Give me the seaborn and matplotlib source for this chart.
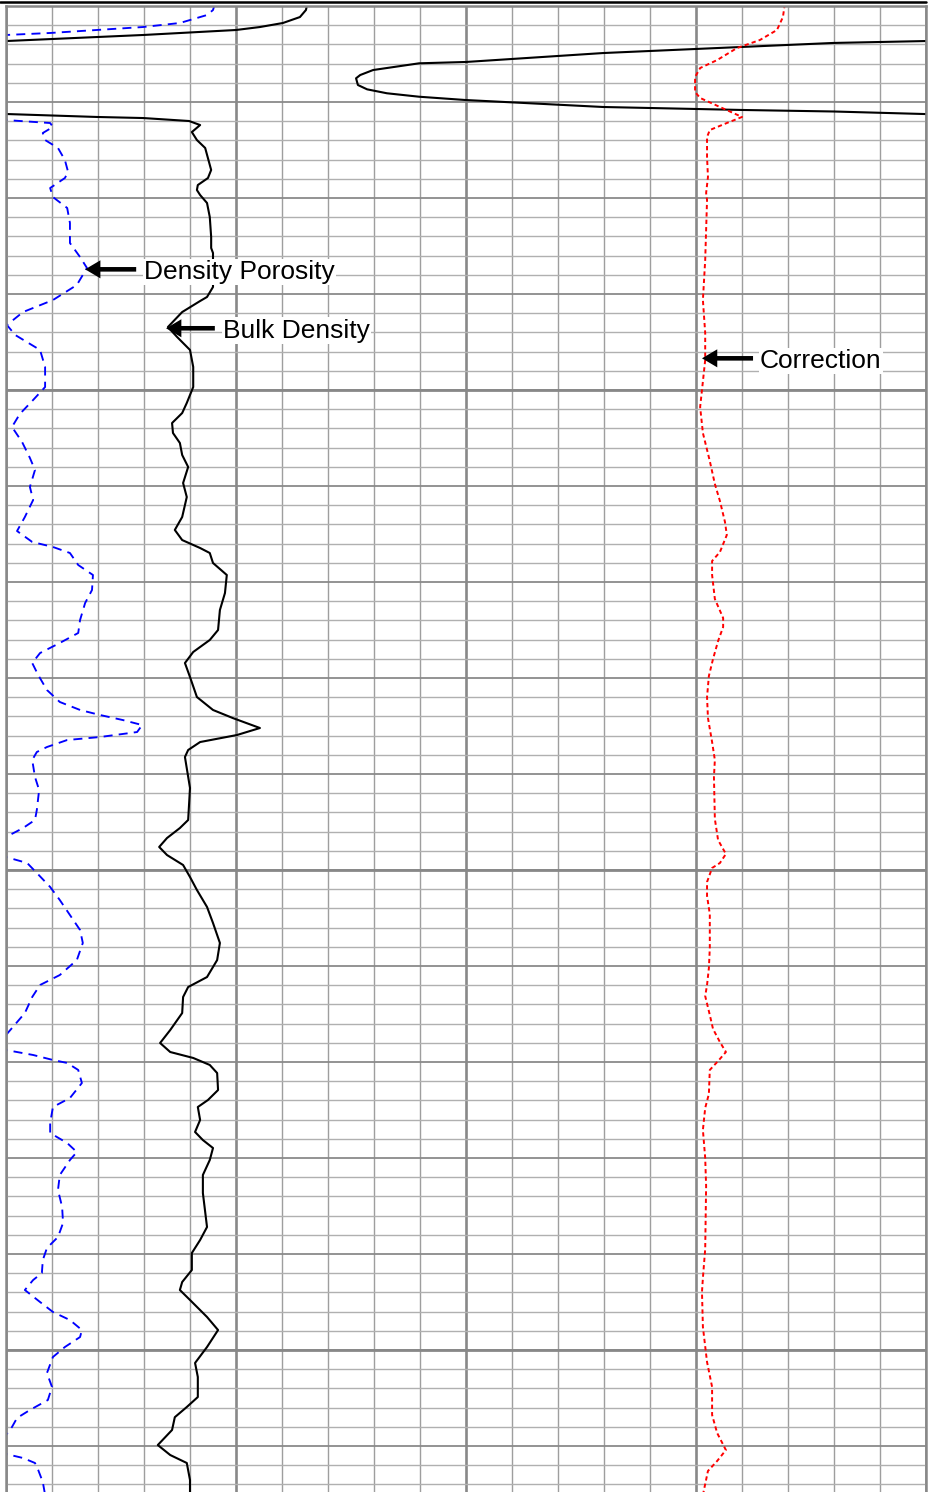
import matplotlib
import numpy as np
import seaborn as sns

matplotlib.use("Agg")
import matplotlib.pyplot as plt
from matplotlib.lines import Line2D
from matplotlib.ticker import MultipleLocator

# Profundidad en pies; valores de curva en divisiones de la grilla
# (pista 1 = 0-10, pista 2 = 10-20). La densidad volumetrica hace "wrap".
rhob_depth = [10.0, 10.42, 11.15, 11.77, 12.19, 12.5, 13.02, 13.23, 13.65,
              13.85, 14.27, 14.9, 15.83, 15.97, 16.67, 17.19, 17.53, 18.23,
              18.68, 19.09, 19.45, 19.79, 20.52, 20.83, 20.99, 21.25,
              21.56, 21.67, 21.98, 22.4, 23.13, 23.96, 24.79, 25.83, 27.08,
              27.92, 28.65, 29.17, 29.69, 30.52, 31.98, 34.06, 35.21, 35.73,
              39.27, 40.31, 40.73, 41.88, 43.44, 44.48, 45.83, 47.6, 49.69,
              51.35, 52.4, 53.44, 54.48, 55.52, 56.77, 58.02, 59.69, 61.15,
              63.23, 64.58, 65.63, 66.46, 66.98, 68.02, 69.27, 71.15, 72.92,
              75.0, 76.04, 77.29, 78.44, 79.9, 81.98, 83.33, 84.17, 85.21,
              85.94, 86.67, 87.5, 88.23, 90.31, 91.46, 94.79, 95.63, 96.67,
              97.6, 98.44, 99.48, 100.73, 102.08, 103.85, 105.52, 107.6,
              109.38, 111.15, 112.19, 113.23, 114.9, 116.67, 118.02, 118.96,
              119.58, 120.31, 121.15, 122.92, 123.96, 124.69, 126.04, 127.29,
              128.13, 128.96, 130.21, 131.77, 133.65, 137.19, 138.54, 139.9,
              141.67, 142.92, 143.75, 144.79, 146.56, 147.92, 149.69, 151.35,
              152.81, 154.9, 155.94, 157.0, 158.33, 159.9, 160.94, 161.77,
              163.54, 165.1]
rhob_div = [6.54, 6.52, 6.39, 6.02, 5.52, 5.0, 2.98, 1.98, 0.0,
            -2.02, -4.0, -7.02, -10.0, -11.02, -12.02, -12.3, -12.39, -12.35,
            -12.15, -11.72, -11.02, -10.02, -7.02, -4.0, -2.0, 0.0,
            1.98, 2.98, 3.98, 4.22, 4.04, 4.15, 4.33, 4.39, 4.46,
            4.39, 4.17, 4.15, 4.22, 4.37, 4.43, 4.46, 4.46, 4.5,
            4.5, 4.37, 4.22, 3.83, 3.52, 3.72, 4.0, 4.07, 4.07,
            3.93, 3.83, 3.61, 3.63, 3.78, 3.83, 3.96, 3.85, 3.93,
            3.83, 3.67, 3.83, 4.22, 4.43, 4.5, 4.8, 4.76, 4.65,
            4.61, 4.43, 4.07, 3.89, 4.0, 4.15, 4.5, 4.93, 5.52,
            5.02, 4.22, 3.96, 3.89, 3.96, 4.0, 3.96, 3.78, 3.5,
            3.33, 3.5, 3.85, 4.0, 4.15, 4.37, 4.5, 4.65,
            4.59, 4.37, 3.96, 3.85, 3.83, 3.57, 3.35, 3.57,
            4.07, 4.43, 4.59, 4.61, 4.39, 4.17, 4.22, 4.11,
            4.28, 4.5, 4.43, 4.28, 4.28, 4.37, 4.22, 4.04,
            4.04, 3.83, 3.78, 4.0, 4.37, 4.61, 4.37, 4.11,
            4.17, 4.17, 3.93, 3.67, 3.61, 3.3, 3.57, 3.93,
            4.0, 4.0]

dphi_depth = [9.79, 10.42, 10.94, 11.77, 12.19, 12.5, 12.81, 13.02, 17.0,
              19.0, 21.0, 21.88, 22.19, 22.6, 23.23, 23.96, 24.79, 26.04,
              27.29, 27.92, 28.96, 29.9, 31.04, 32.6, 34.69, 36.15, 37.29,
              39.06, 40.63, 41.88, 43.23, 44.27, 45.83, 47.6, 49.69, 51.04,
              52.5, 53.85, 55.42, 57.08, 58.33, 60.1, 61.46, 63.23, 64.69,
              65.83, 66.35, 66.98, 68.23, 69.27, 70.83, 72.19, 73.96, 75.31,
              76.35, 77.4, 78.44, 79.69, 81.25, 82.5, 83.33, 83.85, 84.38,
              84.9, 85.63, 86.15, 86.46, 87.19, 87.71, 88.54, 90.31, 91.67,
              93.75, 94.79, 95.63, 96.56, 97.6, 98.65, 99.27, 100.31, 101.77,
              103.13, 104.69, 106.25, 107.6, 109.38, 110.94, 111.98, 113.23,
              114.9, 116.35, 117.19, 118.0, 118.75, 119.27, 119.79, 120.1,
              120.83, 122.19, 123.75, 124.69, 126.35, 127.4, 128.44, 129.38,
              130.21, 131.77, 133.33, 135.1, 136.77, 138.23, 139.38, 140.63,
              141.98, 142.71, 143.75, 145.0, 146.04, 146.88, 147.92, 148.65,
              149.69, 150.73, 152.4, 153.85, 155.21, 156.25, 157.08, 158.02,
              158.85, 159.8, 160.83, 161.25, 161.77, 162.5, 163.75, 165.1]
dphi_div = [4.54, 4.5, 4.37, 3.78, 2.98, 1.98, 0.96, 0.0, -1.0,
            -1.5, -0.5, 0.0, 0.96, 1.02, 0.8, 0.85, 1.13, 1.28,
            1.35, 1.28, 0.96, 1.02, 1.33, 1.39, 1.39, 1.61, 1.76,
            1.54, 1.02, 0.37, 0.02, 0.2, 0.74, 0.85, 0.85, 0.59,
            0.3, 0.13, 0.35, 0.52, 0.63, 0.52, 0.59, 0.41, 0.24,
            0.57, 1.02, 1.39, 1.57, 1.89, 1.87, 1.72, 1.61, 1.57,
            1.17, 0.74, 0.57, 0.7, 0.89, 1.17, 1.61, 2.04, 2.54,
            2.96, 2.85, 2.04, 1.33, 0.89, 0.67, 0.57, 0.63, 0.72,
            0.67, 0.63, 0.37, 0.0, -0.6, 0.0, 0.46, 0.67, 0.96,
            1.17, 1.39, 1.61, 1.67, 1.54, 1.17, 0.74, 0.57,
            0.41, 0.15, 0.0, -0.4, 0.0, 0.59, 1.02, 1.33,
            1.57, 1.65, 1.39, 1.02, 0.96, 0.96, 1.33, 1.54,
            1.39, 1.17, 1.13, 1.22, 1.24, 1.13, 0.89, 0.8,
            0.78, 0.59, 0.41, 0.74, 1.02, 1.39, 1.65, 1.61,
            1.28, 1.02, 0.89, 1.0, 0.91, 0.52, 0.24, 0.13,
            0.0, -0.5, 0.0, 0.37, 0.63, 0.7, 0.8, 0.85]

drho_depth = [9.79, 11.15, 12.5, 13.54, 14.38, 15.63, 16.46, 17.4, 18.96,
              19.58, 20.52, 21.56, 22.19, 22.92, 23.65, 25.73, 27.81, 29.48,
              30.21, 33.33, 36.46, 40.63, 44.06, 46.88, 50.0, 51.77, 54.48,
              57.4, 59.79, 61.56, 63.75, 65.1, 66.88, 67.81, 69.27, 71.77,
              73.75, 74.69, 76.15, 78.02, 79.79, 81.98, 84.17, 86.67, 88.54,
              90.31, 94.69, 96.88, 98.33, 99.27, 99.79, 101.25, 102.71,
              104.58, 108.13, 110.21, 111.98, 113.13, 115.1, 116.56, 117.92,
              118.96, 119.9, 120.83, 123.33, 124.79, 127.08, 130.0, 132.92,
              139.48, 142.5, 143.96, 147.6, 151.25, 153.85, 156.77, 158.65,
              160.42, 161.56, 162.6, 165.1]
drho_div = [16.93, 16.89, 16.76, 16.39, 15.89, 15.46, 15.09, 14.98, 14.98,
            15.09, 15.52, 16.0, 15.67, 15.3, 15.24, 15.24, 15.26, 15.22,
            15.24, 15.22, 15.2, 15.15, 15.2, 15.2, 15.13, 15.09, 15.15,
            15.3, 15.41, 15.52, 15.63, 15.67, 15.52, 15.35, 15.35, 15.41,
            15.59, 15.59, 15.48, 15.37, 15.28, 15.24, 15.26, 15.35, 15.41,
            15.39, 15.41, 15.48, 15.65, 15.52, 15.35, 15.24, 15.24,
            15.3, 15.3, 15.28, 15.24, 15.2, 15.3, 15.37, 15.52,
            15.65, 15.48, 15.3, 15.28, 15.2, 15.15, 15.2, 15.22,
            15.2, 15.15, 15.13, 15.15, 15.24, 15.35, 15.35, 15.46,
            15.65, 15.46, 15.26, 15.15]

curve_labels = ["Density Porosity", "Bulk Density", "Correction"]

FONT = ["Liberation Sans", "DejaVu Sans"]


def setup_axes(fig):
    ax = fig.add_axes([6 / 939, 0, 920 / 939, 1486 / 1492])
    ax.set_xlim(0, 20)
    ax.set_ylim(10 + 1486 / 9.6, 10)

    ax.xaxis.set_major_locator(MultipleLocator(5))
    ax.xaxis.set_minor_locator(MultipleLocator(1))
    ax.yaxis.set_major_locator(MultipleLocator(10))
    ax.yaxis.set_minor_locator(MultipleLocator(2))
    ax.xaxis.grid(True, which="minor", color="#9e9e9e", lw=1.0)
    ax.yaxis.grid(True, which="minor", color="#b0b0b0", lw=1.0)
    ax.xaxis.grid(True, which="major", color="#888888", lw=1.9)
    ax.yaxis.grid(True, which="major", color="#8a8a8a", lw=1.3)
    ax.set_axisbelow(True)
    for d in (50, 100, 150):
        ax.axhline(d, color="#888888", lw=2.0, zorder=0.8)

    ax.tick_params(which="both", length=0, labelleft=False, labelbottom=False)
    ax.set_xlabel("")
    ax.set_ylabel("")
    for side in ("left", "right", "top"):
        ax.spines[side].set_color("#888888")
        ax.spines[side].set_linewidth(1.8)
    ax.spines["bottom"].set_visible(False)
    return ax


def plot_curves(ax):
    rhob = np.array(rhob_div)
    # curva principal y su "wrap" en la pista 2
    for shift in (0, 20):
        sns.lineplot(x=rhob + shift, y=rhob_depth, sort=False, estimator=None,
                     color="black", lw=1.5, solid_joinstyle="round", ax=ax)
    sns.lineplot(x=dphi_div, y=dphi_depth, sort=False, estimator=None,
                 color="#0000ff", lw=1.35, linestyle=(0, (4.8, 3.3)), ax=ax)
    sns.lineplot(x=drho_div, y=drho_depth, sort=False, estimator=None,
                 color="#ff0000", lw=1.4, linestyle=(0, (2.2, 1.6)), ax=ax)
    ax.set_xlim(0, 20)
    ax.set_ylim(10 + 1486 / 9.6, 10)


def add_labels(ax):
    arrows = [((1.72, 37.43), (2.83, 37.43), 3.0),
              ((3.48, 43.57), (4.54, 43.57), 4.72),
              ((15.13, 46.70), (16.24, 46.70), 16.39)]
    for label, (tip, tail, tx) in zip(curve_labels, arrows):
        ax.annotate("", xy=tip, xytext=tail,
                    arrowprops=dict(facecolor="black", edgecolor="none",
                                    width=3.3, headwidth=13, headlength=11,
                                    shrink=0))
        ax.text(tx, tip[1] + 0.99, label, fontsize=19, family=FONT,
                color="black", ha="left", va="baseline",
                bbox=dict(facecolor="white", edgecolor="none", pad=1.0))


def main():
    sns.set_style("white")
    fig = plt.figure(figsize=(9.39, 14.92), dpi=100)
    ax = setup_axes(fig)
    plot_curves(ax)
    add_labels(ax)
    fig.add_artist(Line2D([0, 926 / 939], [1 - 1.8 / 1492] * 2,
                          color="black", lw=1.8, transform=fig.transFigure))
    fig.savefig("out.png", dpi=100)
    plt.close(fig)


if __name__ == "__main__":
    main()
